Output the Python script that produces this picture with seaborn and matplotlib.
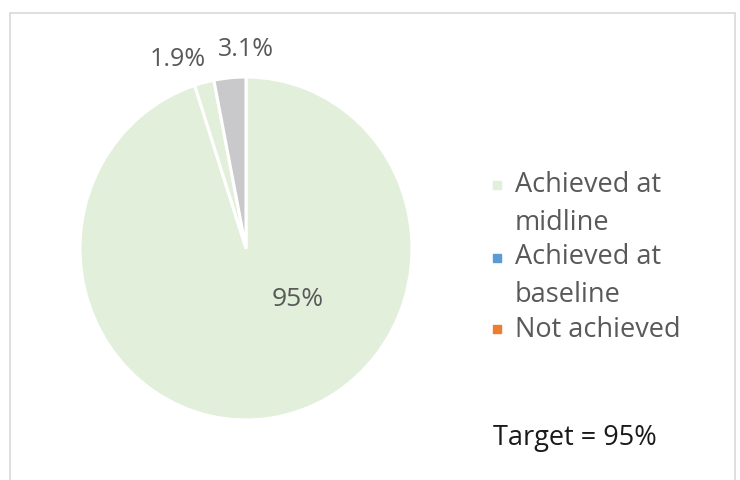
import matplotlib
matplotlib.use("Agg")
import matplotlib.pyplot as plt
from matplotlib.patches import Rectangle
from matplotlib.lines import Line2D
import seaborn as sns

# ---- data ----
slice_values = [95.0, 1.9, 3.1]
slice_labels = ["95%", "1.9%", "3.1%"]
slice_colors = ["#e2efda", "#e2efda", "#c9c9cc"]
legend_labels = ["Achieved at\nmidline", "Achieved at\nbaseline", "Not achieved"]
legend_colors = ["#e2efda", "#5b9bd5", "#ed7d31"]
target_text = "Target = 95%"

sns.set_theme(style="white")
plt.rcParams["font.family"] = ["Open Sans", "DejaVu Sans"]

W, H = 740, 480
fig = plt.figure(figsize=(7.4, 4.8), dpi=100)
fig.patch.set_facecolor("white")

# chart frame
fig.patches.append(Rectangle((10 / W, -0.05), 725 / W, 1.05 - 13 / H,
                             transform=fig.transFigure, fill=False,
                             edgecolor="#d9d9d9", linewidth=1.2))

cx, cy, rx, ry = 246, 248.5, 166, 171.5
ax = fig.add_axes([(cx - rx) / W, (H - cy - ry) / H, 2 * rx / W, 2 * ry / H])
wedges, _ = ax.pie(slice_values, colors=slice_colors, startangle=90,
                   counterclock=False,
                   wedgeprops=dict(edgecolor="white", linewidth=2.2))
ax.set_aspect("auto")
ax.set_xlim(-1, 1)
ax.set_ylim(-1, 1)
ax.axis("off")

label_color = "#595959"
ax.text(0.31, -0.30, slice_labels[0], ha="center", va="center",
        fontsize=19, color=label_color)
ax.text(-0.41, 1.10, slice_labels[1], ha="center", va="center",
        fontsize=18, color=label_color, clip_on=False)
ax.text(0.0, 1.16, slice_labels[2], ha="center", va="center",
        fontsize=18, color=label_color, clip_on=False)

# legend (manual layout so the marker sits beside the first line)
line_step = 35.7
first_baselines = [194, 266, 337]
marker_centers = [185, 258, 329]
for lab, col, yb, ym in zip(legend_labels, legend_colors, first_baselines, marker_centers):
    fig.add_artist(Line2D([497 / W], [1 - ym / H], marker="s", linestyle="none",
                          markersize=5.8, markerfacecolor=col, markeredgecolor=col,
                          transform=fig.transFigure))
    last_baseline = yb + line_step * lab.count("\n")
    fig.text(515 / W, 1 - last_baseline / H, lab, ha="left", va="baseline",
             fontsize=19.5, color="#595959", linespacing=1.48)

fig.text(493 / W, 1 - 438 / H, target_text, ha="left", va="center",
         fontsize=19.5, color="#1a1a1a")

fig.savefig("out.png", dpi=100, facecolor="white")
